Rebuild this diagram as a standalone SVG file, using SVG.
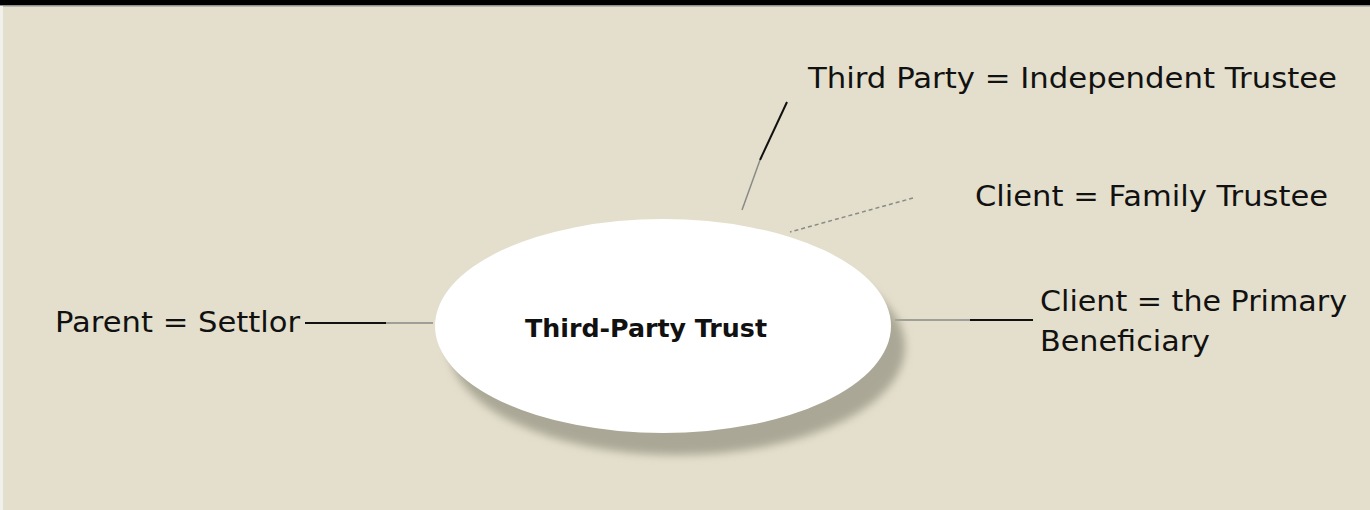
<svg xmlns="http://www.w3.org/2000/svg" width="1370" height="510" viewBox="0 0 1370 510">
<defs>
<filter id="blur" x="-20%" y="-20%" width="140%" height="140%"><feGaussianBlur stdDeviation="4"/></filter>
</defs>
<style>
.lbl{font-family:"DejaVu Sans",Verdana,sans-serif;font-size:28px;fill:#111}
.title{font-family:"DejaVu Sans",Verdana,sans-serif;font-size:24px;font-weight:bold;fill:#111}
.dark{stroke:#111;stroke-width:2;fill:none}
.light{stroke:#8a8a86;stroke-width:1.5;fill:none}
</style>
<rect width="1370" height="510" fill="#e4dfcc"/>
<rect x="0" y="0" width="1370" height="5" fill="#000"/>
<rect x="0" y="5" width="1370" height="1.5" fill="#8f8f8f"/>
<rect x="0" y="6" width="3" height="504" fill="#f2f0ea"/>
<g id="connectors">
<line class="dark" x1="787" y1="102" x2="760" y2="160"/>
<line class="light" x1="760" y1="160" x2="742" y2="210"/>
<line class="light" x1="913" y1="198" x2="790" y2="232" stroke-dasharray="4 3"/>
<line class="dark" x1="305" y1="323" x2="386" y2="323"/>
<line class="light" x1="386" y1="323" x2="433" y2="323"/>
<line class="light" x1="895" y1="320" x2="970" y2="320"/>
<line class="dark" x1="970" y1="320" x2="1033" y2="320"/>
</g>
<g id="trust">
<ellipse cx="677" cy="347" rx="228" ry="108" fill="#aaa796" filter="url(#blur)"/>
<ellipse cx="663" cy="326" rx="228" ry="107" fill="#ffffff"/>
<text class="title" x="525" y="337" textLength="242" lengthAdjust="spacingAndGlyphs">Third-Party Trust</text>
</g>
<g id="independent-trustee"><text class="lbl" x="808" y="88" textLength="529" lengthAdjust="spacingAndGlyphs">Third Party = Independent Trustee</text></g>
<g id="family-trustee"><text class="lbl" x="975" y="206" textLength="353" lengthAdjust="spacingAndGlyphs">Client = Family Trustee</text></g>
<g id="settlor"><text class="lbl" x="55" y="332" textLength="245" lengthAdjust="spacingAndGlyphs">Parent = Settlor</text></g>
<g id="beneficiary"><text class="lbl" x="1040" y="311" textLength="307" lengthAdjust="spacingAndGlyphs">Client = the Primary</text><text class="lbl" x="1040" y="351" textLength="170" lengthAdjust="spacingAndGlyphs">Beneficiary</text></g>
</svg>
